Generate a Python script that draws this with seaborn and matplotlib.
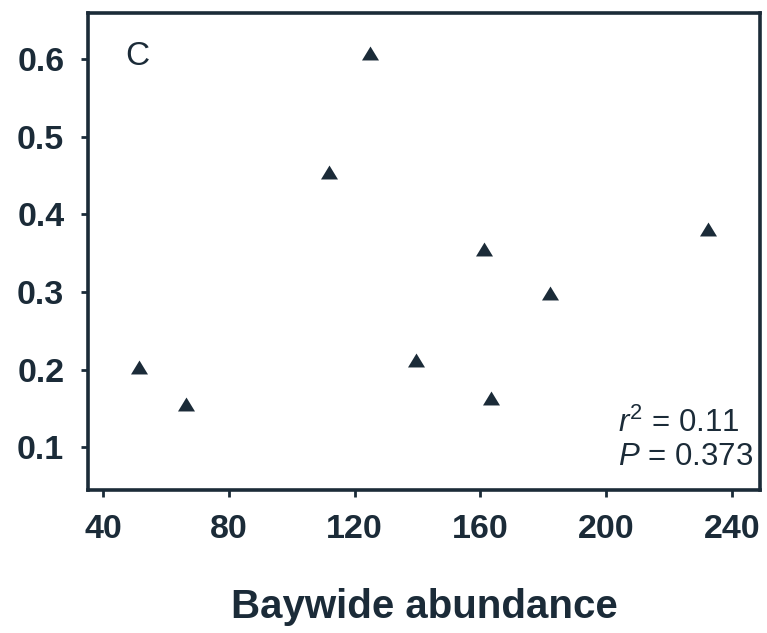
import matplotlib
matplotlib.use("Agg")
import matplotlib.pyplot as plt
import seaborn as sns
import pandas as pd

# Baywide abundance vs. response, panel C
abundance = [51.5, 66.5, 112, 125, 139.5, 161, 163.5, 182, 232.5]
response = [0.203, 0.156, 0.454, 0.608, 0.212, 0.355, 0.164, 0.298, 0.381]
x_ticks = [40, 80, 120, 160, 200, 240]
y_ticks = [0.1, 0.2, 0.3, 0.4, 0.5, 0.6]
panel_label = "C"
stats_text = "$r^2$ = 0.11\n$P$ = 0.373"

df = pd.DataFrame({"abundance": abundance, "response": response})

sns.set_style("ticks")
plt.rcParams["font.family"] = ["Liberation Sans", "DejaVu Sans"]
plt.rcParams["mathtext.fontset"] = "custom"
plt.rcParams["mathtext.rm"] = "Liberation Sans"
plt.rcParams["mathtext.it"] = "Liberation Sans:italic"

ink = "#1b2b38"

# slightly flattened upward triangle
tri = [(0.0, 0.82), (-1.0, -0.82), (1.0, -0.82), (0.0, 0.82)]

fig = plt.figure(figsize=(7.67, 6.33), dpi=100)
ax = fig.add_axes([0.1147, 0.2259, 0.8762, 0.7536])

sns.scatterplot(data=df, x="abundance", y="response", marker=tri, s=150,
                color=ink, edgecolor=ink, linewidth=0, ax=ax, legend=False)

ax.set_xlim(35.2, 248.9)
ax.set_ylim(0.045, 0.659)
ax.set_xticks(x_ticks)
ax.set_yticks(y_ticks)
ax.set_xticklabels([str(v) for v in x_ticks], fontweight="bold")
ax.set_yticklabels([f"{v:.1f}" for v in y_ticks], fontweight="bold")

for side in ["top", "right", "left", "bottom"]:
    ax.spines[side].set_visible(True)
    ax.spines[side].set_linewidth(2.6)
    ax.spines[side].set_color(ink)

ax.tick_params(axis="both", direction="out", length=5, width=2.0,
               colors=ink, labelsize=24.5, labelcolor=ink)
ax.tick_params(axis="x", pad=12)
ax.tick_params(axis="y", pad=12)

ax.set_xlabel("Baywide abundance", fontsize=29, fontweight="bold",
              color=ink, labelpad=31)
ax.set_ylabel("")

ax.text(0.074, 0.908, panel_label, transform=ax.transAxes, fontsize=24,
        color=ink, ha="center", va="center")
ax.text(0.789, 0.105, stats_text, transform=ax.transAxes, fontsize=22.5,
        color=ink, ha="left", va="center", linespacing=1.15)

fig.savefig("out.png", dpi=100, facecolor="white")
